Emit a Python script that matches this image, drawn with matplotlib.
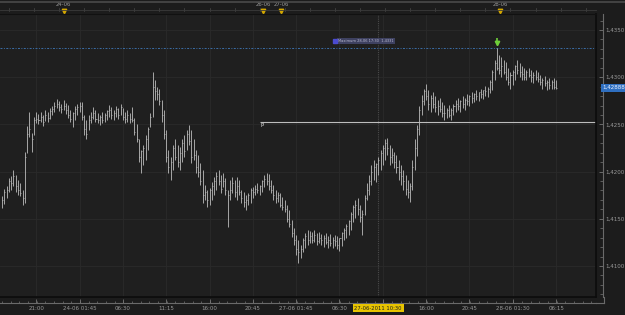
import matplotlib
matplotlib.use("Agg")
import matplotlib.pyplot as plt
import matplotlib.transforms as mtransforms
from matplotlib.lines import Line2D
from matplotlib.ticker import FixedLocator, MultipleLocator, FuncFormatter
import numpy as np

# ---------------- data (15-min EUR bars) ----------------
highs = [
    1.4174, 1.4182, 1.4185, 1.4193, 1.4195, 1.4202, 1.4196, 1.4191, 1.4188, 1.4181,
    1.4221, 1.4248, 1.4263, 1.4241, 1.4258, 1.4263, 1.4261, 1.4263, 1.4260, 1.4265,
    1.4263, 1.4267, 1.4270, 1.4274, 1.4277, 1.4275, 1.4272, 1.4276, 1.4273, 1.4271,
    1.4265, 1.4263, 1.4270, 1.4272, 1.4274, 1.4274, 1.4260, 1.4255, 1.4260, 1.4263,
    1.4268, 1.4265, 1.4262, 1.4260, 1.4263, 1.4262, 1.4265, 1.4271, 1.4268, 1.4265,
    1.4270, 1.4267, 1.4272, 1.4267, 1.4263, 1.4265, 1.4262, 1.4268, 1.4257, 1.4250,
    1.4234, 1.4223, 1.4228, 1.4239, 1.4247, 1.4262, 1.4306, 1.4297, 1.4290, 1.4287,
    1.4276, 1.4265, 1.4244, 1.4223, 1.4215, 1.4228, 1.4234, 1.4228, 1.4226, 1.4234,
    1.4239, 1.4244, 1.4249, 1.4244, 1.4234, 1.4223, 1.4218, 1.4209, 1.4202, 1.4186,
    1.4181, 1.4183, 1.4189, 1.4194, 1.4200, 1.4202, 1.4196, 1.4199, 1.4193, 1.4181,
    1.4191, 1.4194, 1.4191, 1.4194, 1.4191, 1.4181, 1.4178, 1.4175, 1.4177, 1.4183,
    1.4184, 1.4186, 1.4188, 1.4186, 1.4191, 1.4196, 1.4199, 1.4197, 1.4191, 1.4186,
    1.4181, 1.4178, 1.4177, 1.4173, 1.4170, 1.4165, 1.4159, 1.4149, 1.4140, 1.4133,
    1.4128, 1.4122, 1.4130, 1.4135, 1.4138, 1.4137, 1.4136, 1.4138, 1.4135, 1.4136,
    1.4134, 1.4133, 1.4135, 1.4132, 1.4134, 1.4131, 1.4133, 1.4132, 1.4130, 1.4136,
    1.4140, 1.4144, 1.4149, 1.4157, 1.4165, 1.4170, 1.4172, 1.4165, 1.4159, 1.4175,
    1.4188, 1.4196, 1.4207, 1.4212, 1.4209, 1.4215, 1.4223, 1.4228, 1.4234, 1.4236,
    1.4228, 1.4225, 1.4221, 1.4218, 1.4212, 1.4207, 1.4202, 1.4196, 1.4191, 1.4188,
    1.4212, 1.4234, 1.4249, 1.4270, 1.4281, 1.4288, 1.4293, 1.4286, 1.4281, 1.4284,
    1.4280, 1.4276, 1.4278, 1.4274, 1.4271, 1.4267, 1.4271, 1.4267, 1.4272, 1.4276,
    1.4278, 1.4276, 1.4280, 1.4278, 1.4282, 1.4281, 1.4284, 1.4283, 1.4286, 1.4284,
    1.4288, 1.4286, 1.4291, 1.4290, 1.4297, 1.4308, 1.4318, 1.4331, 1.4324, 1.4321,
    1.4318, 1.4316, 1.4310, 1.4305, 1.4308, 1.4313, 1.4318, 1.4315, 1.4312, 1.4310,
    1.4308, 1.4310, 1.4308, 1.4305, 1.4308, 1.4305, 1.4302, 1.4299, 1.4301, 1.4297,
    1.4299, 1.4297, 1.4299, 1.4297,
]
lows = [
    1.4161, 1.4166, 1.4172, 1.4178, 1.4181, 1.4185, 1.4178, 1.4175, 1.4174, 1.4165,
    1.4167, 1.4220, 1.4237, 1.4221, 1.4239, 1.4251, 1.4250, 1.4252, 1.4248, 1.4254,
    1.4252, 1.4256, 1.4260, 1.4263, 1.4267, 1.4264, 1.4262, 1.4265, 1.4261, 1.4257,
    1.4252, 1.4247, 1.4255, 1.4260, 1.4263, 1.4255, 1.4239, 1.4234, 1.4244, 1.4251,
    1.4256, 1.4252, 1.4251, 1.4249, 1.4251, 1.4252, 1.4255, 1.4258, 1.4256, 1.4255,
    1.4258, 1.4256, 1.4260, 1.4255, 1.4251, 1.4252, 1.4251, 1.4252, 1.4239, 1.4231,
    1.4210, 1.4199, 1.4207, 1.4212, 1.4223, 1.4247, 1.4258, 1.4276, 1.4276, 1.4271,
    1.4252, 1.4234, 1.4210, 1.4199, 1.4191, 1.4202, 1.4212, 1.4205, 1.4202, 1.4210,
    1.4215, 1.4223, 1.4228, 1.4209, 1.4212, 1.4199, 1.4194, 1.4186, 1.4167, 1.4170,
    1.4162, 1.4165, 1.4170, 1.4175, 1.4181, 1.4186, 1.4177, 1.4184, 1.4175, 1.4141,
    1.4170, 1.4177, 1.4173, 1.4170, 1.4175, 1.4167, 1.4162, 1.4159, 1.4165, 1.4167,
    1.4172, 1.4175, 1.4177, 1.4175, 1.4178, 1.4184, 1.4186, 1.4181, 1.4177, 1.4170,
    1.4167, 1.4168, 1.4162, 1.4159, 1.4157, 1.4147, 1.4141, 1.4131, 1.4122, 1.4112,
    1.4103, 1.4108, 1.4115, 1.4119, 1.4122, 1.4124, 1.4124, 1.4125, 1.4122, 1.4124,
    1.4122, 1.4120, 1.4123, 1.4119, 1.4121, 1.4119, 1.4121, 1.4118, 1.4116, 1.4121,
    1.4128, 1.4130, 1.4133, 1.4138, 1.4147, 1.4151, 1.4154, 1.4147, 1.4133, 1.4154,
    1.4170, 1.4175, 1.4186, 1.4191, 1.4189, 1.4196, 1.4202, 1.4207, 1.4212, 1.4218,
    1.4207, 1.4209, 1.4204, 1.4199, 1.4191, 1.4186, 1.4181, 1.4175, 1.4172, 1.4168,
    1.4181, 1.4202, 1.4217, 1.4239, 1.4260, 1.4271, 1.4276, 1.4265, 1.4263, 1.4267,
    1.4263, 1.4260, 1.4263, 1.4258, 1.4255, 1.4257, 1.4258, 1.4255, 1.4260, 1.4263,
    1.4265, 1.4263, 1.4267, 1.4265, 1.4271, 1.4269, 1.4273, 1.4274, 1.4276, 1.4275,
    1.4278, 1.4277, 1.4280, 1.4279, 1.4283, 1.4286, 1.4297, 1.4308, 1.4303, 1.4300,
    1.4303, 1.4297, 1.4292, 1.4288, 1.4292, 1.4297, 1.4303, 1.4300, 1.4297, 1.4297,
    1.4297, 1.4300, 1.4295, 1.4294, 1.4297, 1.4295, 1.4292, 1.4288, 1.4291, 1.4286,
    1.4288, 1.4287, 1.4288, 1.4287,
]
closes = [
    1.4170, 1.4178, 1.4181, 1.4190, 1.4188, 1.4195, 1.4185, 1.4180, 1.4177, 1.4172,
    1.4215, 1.4240, 1.4245, 1.4235, 1.4255, 1.4256, 1.4255, 1.4258, 1.4252, 1.4260,
    1.4257, 1.4264, 1.4266, 1.4270, 1.4272, 1.4268, 1.4266, 1.4270, 1.4265, 1.4260,
    1.4256, 1.4262, 1.4266, 1.4268, 1.4270, 1.4258, 1.4245, 1.4240, 1.4255, 1.4258,
    1.4262, 1.4256, 1.4255, 1.4258, 1.4255, 1.4260, 1.4264, 1.4265, 1.4260, 1.4262,
    1.4266, 1.4260, 1.4268, 1.4258, 1.4256, 1.4260, 1.4256, 1.4255, 1.4242, 1.4235,
    1.4215, 1.4222, 1.4225, 1.4235, 1.4245, 1.4258, 1.4290, 1.4285, 1.4282, 1.4275,
    1.4260, 1.4240, 1.4215, 1.4205, 1.4210, 1.4225, 1.4215, 1.4210, 1.4220, 1.4230,
    1.4222, 1.4240, 1.4232, 1.4215, 1.4218, 1.4205, 1.4200, 1.4190, 1.4175, 1.4178,
    1.4170, 1.4180, 1.4185, 1.4190, 1.4195, 1.4190, 1.4182, 1.4190, 1.4180, 1.4175,
    1.4180, 1.4188, 1.4178, 1.4185, 1.4178, 1.4172, 1.4168, 1.4170, 1.4175, 1.4180,
    1.4178, 1.4182, 1.4180, 1.4185, 1.4190, 1.4192, 1.4190, 1.4185, 1.4180, 1.4175,
    1.4172, 1.4175, 1.4165, 1.4162, 1.4160, 1.4150, 1.4145, 1.4135, 1.4128, 1.4118,
    1.4115, 1.4118, 1.4128, 1.4132, 1.4128, 1.4132, 1.4128, 1.4133, 1.4126, 1.4130,
    1.4128, 1.4130, 1.4125, 1.4128, 1.4124, 1.4128, 1.4126, 1.4122, 1.4130, 1.4135,
    1.4138, 1.4142, 1.4148, 1.4155, 1.4162, 1.4165, 1.4160, 1.4152, 1.4155, 1.4172,
    1.4180, 1.4190, 1.4200, 1.4205, 1.4208, 1.4212, 1.4220, 1.4225, 1.4230, 1.4225,
    1.4215, 1.4218, 1.4210, 1.4205, 1.4200, 1.4195, 1.4190, 1.4182, 1.4178, 1.4185,
    1.4205, 1.4225, 1.4245, 1.4265, 1.4275, 1.4285, 1.4280, 1.4272, 1.4278, 1.4272,
    1.4268, 1.4270, 1.4266, 1.4262, 1.4262, 1.4265, 1.4260, 1.4265, 1.4270, 1.4272,
    1.4270, 1.4275, 1.4272, 1.4276, 1.4275, 1.4280, 1.4278, 1.4282, 1.4280, 1.4284,
    1.4282, 1.4286, 1.4285, 1.4288, 1.4295, 1.4305, 1.4315, 1.4310, 1.4308, 1.4312,
    1.4305, 1.4300, 1.4295, 1.4302, 1.4305, 1.4312, 1.4308, 1.4305, 1.4303, 1.4300,
    1.4305, 1.4302, 1.4300, 1.4302, 1.4300, 1.4298, 1.4295, 1.4297, 1.4294, 1.4295,
    1.4292, 1.4295, 1.4290, 1.42888,
]

bottom_tick_bars = [15, 34, 53, 72, 91, 110, 129, 148, 167, 186, 205, 224, 243]
bottom_tick_labels = ["21:00", "24-06 01:45", "06:30", "11:15", "16:00", "20:45",
                      "27-06 01:45", "06:30", "", "16:00", "20:45", "28-06 01:30", "06:15"]
day_marker_bars = [27, 114.5, 122.5, 218.5]
day_marker_labels = ["24-06", "26-06", "27-06", "28-06"]
price_levels = [1.4100, 1.4150, 1.4200, 1.4250, 1.4300, 1.4350]

max_price = 1.4331
max_bar = 217
pivot_price = 1.4253
pivot_start_bar = 113
cursor_bar = 165
cursor_label = "27-06-2011 10:30"
last_price_label = "1,42888"

# ---------------- styling ----------------
W, H = 625, 315
BG = "#1c1c1c"
GRID = "#2a2a2a"
BAR = "#bcbcbc"
TXT = "#9a9a9a"

fig = plt.figure(figsize=(W / 100, H / 100), dpi=100, facecolor=BG)
ax = fig.add_axes([0, 18 / H, 596 / W, (297 - 14) / H], facecolor="#1f1f1f")

n = len(highs)
x = np.arange(n)
hi = np.array(highs)
lo = np.array(lows)
cl = np.clip(np.array(closes), lo, hi)

ax.set_xlim(-0.88, 260.5)
ax.set_ylim(1.40672, 1.43669)

# grid
for b in bottom_tick_bars:
    ax.axvline(b, color=GRID, lw=0.6, zorder=0)
for p in price_levels:
    ax.axhline(p, color=GRID, lw=0.6, zorder=0)

# cursor dotted line
ax.axvline(cursor_bar, color="#4a4a4a", lw=0.8, ls=(0, (1, 1)), zorder=1)

# bars
ax.vlines(x, lo, hi, color=BAR, lw=0.6, zorder=3)
ax.hlines(cl, x, x + 0.45, color=BAR, lw=0.5, zorder=3)

# max line (blue dash-dot)
ax.axhline(max_price, color="#3b6ea8", lw=0.7, ls=(0, (2, 1.5, 1, 1.5)), zorder=2)
ax.text(147.5, 1.43385, "Maximum 28-06 17:30  1,4331", fontsize=2.6, color="#b8b8d0",
        va="center", ha="left", zorder=5,
        bbox=dict(boxstyle="square,pad=0.25", fc="#3e4160", ec="none"))
ax.plot([146.0], [1.43385], marker="s", ms=2.6, color="#4b4bd0", zorder=6)

# pivot line
ax.hlines(pivot_price, pivot_start_bar, 260.5, color="#bdbdbd", lw=0.8, zorder=2)
ax.text(pivot_start_bar + 0.3, pivot_price - 0.00012, "P", fontsize=4, color="#e0e0e0",
        ha="left", va="top", zorder=5)

# green arrow at max
ax.plot([max_bar], [1.4336], marker="v", ms=3.2, color="#6fcf3a", zorder=6, clip_on=False)
ax.vlines(max_bar, 1.4336, 1.4341, color="#6fcf3a", lw=1.2, zorder=6)

# frame edges (dark)
ax.plot([1, 1], [0, 1], transform=ax.transAxes, color="#0c0c0c", lw=1.2, clip_on=False, zorder=7)
ax.plot([0, 1], [0, 0], transform=ax.transAxes, color="#0c0c0c", lw=1.2, clip_on=False, zorder=7)
for s in ["top", "left"]:
    ax.spines[s].set_visible(False)

# right price axis
ax.yaxis.tick_right()
ax.spines["right"].set_position(("outward", 5.0))
ax.spines["right"].set_color("#6a6a6a")
ax.spines["right"].set_linewidth(0.8)
ax.yaxis.set_major_locator(FixedLocator(price_levels))
ax.yaxis.set_minor_locator(MultipleLocator(0.001))
ax.yaxis.set_major_formatter(FuncFormatter(lambda v, pos: f"{v:.4f}".replace(".", ",")))
ax.tick_params(axis="y", which="both", direction="in", colors="#777777", labelcolor=TXT,
               labelsize=4, pad=2)
ax.tick_params(axis="y", which="major", length=3, width=0.6)
ax.tick_params(axis="y", which="minor", length=2, width=0.5)

# bottom time axis
ax.spines["bottom"].set_position(("outward", 4.3))
ax.spines["bottom"].set_color("#6a6a6a")
ax.spines["bottom"].set_linewidth(0.8)
ax.xaxis.set_major_locator(FixedLocator(bottom_tick_bars))
ax.xaxis.set_major_formatter(FuncFormatter(lambda v, pos: bottom_tick_labels[pos] if pos is not None and pos < len(bottom_tick_labels) else ""))
ax.xaxis.set_minor_locator(MultipleLocator(3.8))
ax.tick_params(axis="x", which="both", direction="in", colors="#777777", labelcolor=TXT,
               labelsize=4, pad=2.5)
ax.tick_params(axis="x", which="major", length=3, width=0.6)
ax.tick_params(axis="x", which="minor", length=1.5, width=0.5)

# corner join of the two axis lines
fig.add_artist(Line2D([596 / W, 603.5 / W], [12 / H, 12 / H], color="#6a6a6a", lw=0.8))
fig.add_artist(Line2D([603.5 / W, 603.5 / W], [12 / H, 18 / H], color="#6a6a6a", lw=0.8))

# cursor date label (bottom)
bt = mtransforms.blended_transform_factory(ax.transData, fig.transFigure)
ax.text(cursor_bar, 1 - 308 / H, cursor_label, transform=bt, fontsize=3.8, color="#202020",
        ha="center", va="center", clip_on=False, zorder=8,
        bbox=dict(boxstyle="square,pad=0.3", fc="#e8c400", ec="none"))

# last price label (right)
ax.text(1.0, 1.42888, last_price_label, transform=mtransforms.blended_transform_factory(
        fig.transFigure, ax.transData), fontsize=4, color="#e8f0ff", ha="right", va="center",
        clip_on=False, zorder=8, bbox=dict(boxstyle="square,pad=0.3", fc="#2f6fc0", ec="none"))

# top strip: border line, tick line, day markers
fig.add_artist(Line2D([0, 1], [1 - 1.5 / H, 1 - 1.5 / H], color="#4a4a4a", lw=1.2))
fig.add_artist(Line2D([0, 596 / W], [1 - 9.5 / H, 1 - 9.5 / H], color="#3a3a3a", lw=0.6))
fig.add_artist(Line2D([0, 596 / W], [1 - 14 / H, 1 - 14 / H], color="#111111", lw=0.8))
for b in np.arange(3, 260, 11):
    ax.plot([b, b], [1 - 8 / H, 1 - 11 / H], transform=bt, color="#4a4a4a", lw=0.5, clip_on=False)
for b, lab in zip(day_marker_bars, day_marker_labels):
    ax.plot([b], [1 - 11 / H], transform=bt, marker="v", ms=3.2, color="#d4a800",
            clip_on=False, zorder=8)
    ax.text(b, 1 - 5 / H, lab, transform=bt, fontsize=3.8, color=TXT, ha="center",
            va="center", clip_on=False)

fig.savefig("out.png", dpi=100, facecolor=BG)
